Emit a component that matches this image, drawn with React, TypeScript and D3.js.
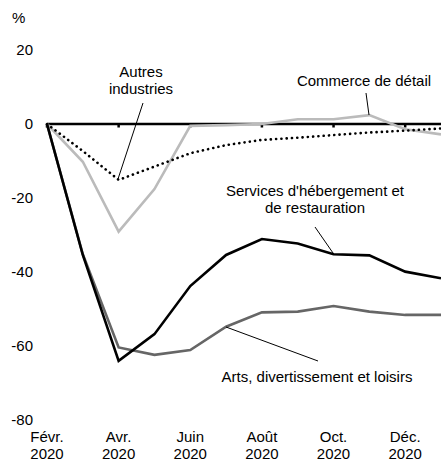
import React from "react";
import * as d3 from "d3";

const months = ["Févr.", "Mars", "Avr.", "Mai", "Juin", "Juil.", "Août", "Sept.", "Oct.", "Nov.", "Déc.", "Janv."];
const tickMonths = ["Févr.", "Avr.", "Juin", "Août", "Oct.", "Déc."];
const tickYear = "2020";
const yTicks = [20, 0, -20, -40, -60, -80];

const hebergement = [0, -35.4, -64, -56.8, -43.8, -35.4, -31.1, -32.3, -35.2, -35.5, -39.9, -41.7];
const arts = [0, -35.2, -60.4, -62.4, -61.1, -54.8, -50.9, -50.7, -49.2, -50.7, -51.6, -51.6];
const commerce = [0, -10.2, -29.1, -17.6, -0.5, -0.3, 0, 1.3, 1.3, 2.4, -1.4, -2.8];
const autres = [0, -7.3, -15.1, -11.5, -7.9, -5.7, -4.3, -3.7, -3.0, -2.3, -1.8, -1.2];

const FONT = "'Liberation Sans', Arial, sans-serif";

export default function App() {
  const W = 441, H = 461;
  const x = d3.scaleLinear().domain([0, months.length - 1]).range([47, 441]);
  const y = d3.scaleLinear().domain([-80, 20]).range([420, 50]);
  const line = d3.line<number>().x((_, i) => x(i)).y((d) => y(d));

  const series = [
    { data: commerce, color: "#bbbbbb", width: 2.6, dash: undefined },
    { data: arts, color: "#666666", width: 2.6, dash: undefined },
    { data: hebergement, color: "#000000", width: 2.6, dash: undefined },
    { data: autres, color: "#000000", width: 2.6, dash: "0.1 5.2" },
  ];

  return (
    <svg width={W} height={H} style={{ position: "absolute", left: 0, top: 0, background: "#fff" }} fontFamily={FONT} fontSize={15}>
      <text x={12} y={23} fill="#000">%</text>
      {yTicks.map((t) => (
        <text key={t} x={33} y={y(t) + 5} textAnchor="end" fill="#000">{t}</text>
      ))}
      {months.map((m, i) => {
        const idx = tickMonths.indexOf(m);
        if (idx < 0) return null;
        return (
          <g key={m}>
            <line x1={x(i)} x2={x(i)} y1={y(0)} y2={y(0) + 3.5} stroke="#000" strokeWidth={2.5} />
            <text x={x(i)} y={442} textAnchor="middle">{m}</text>
            <text x={x(i)} y={459} textAnchor="middle">{tickYear}</text>
          </g>
        );
      })}
      <line x1={x(0)} x2={W} y1={y(0)} y2={y(0)} stroke="#000" strokeWidth={2.5} />
      {series.map((s, k) => (
        <path key={k} d={line(s.data) || ""} fill="none" stroke={s.color} strokeWidth={s.width}
          strokeDasharray={s.dash} strokeLinecap={s.dash ? "round" : "butt"} strokeLinejoin="miter" />
      ))}
      {/* annotations */}
      <g fill="#000">
        <text x={141} y={77} textAnchor="middle">Autres</text>
        <text x={141} y={94} textAnchor="middle">industries</text>
        <line x1={143} y1={103} x2={118} y2={179} stroke="#000" strokeWidth={1} />
        <text x={364} y={86} textAnchor="middle">Commerce de détail</text>
        <line x1={366} y1={93} x2={369} y2={115} stroke="#000" strokeWidth={1} />
        <text x={315} y={196} textAnchor="middle">Services d'hébergement et</text>
        <text x={315} y={213} textAnchor="middle">de restauration</text>
        <line x1={315} y1={227} x2={333} y2={253} stroke="#000" strokeWidth={1} />
        <text x={317} y={382} textAnchor="middle">Arts, divertissement et loisirs</text>
        <line x1={318} y1={361} x2={226} y2={327} stroke="#000" strokeWidth={1} />
      </g>
    </svg>
  );
}
